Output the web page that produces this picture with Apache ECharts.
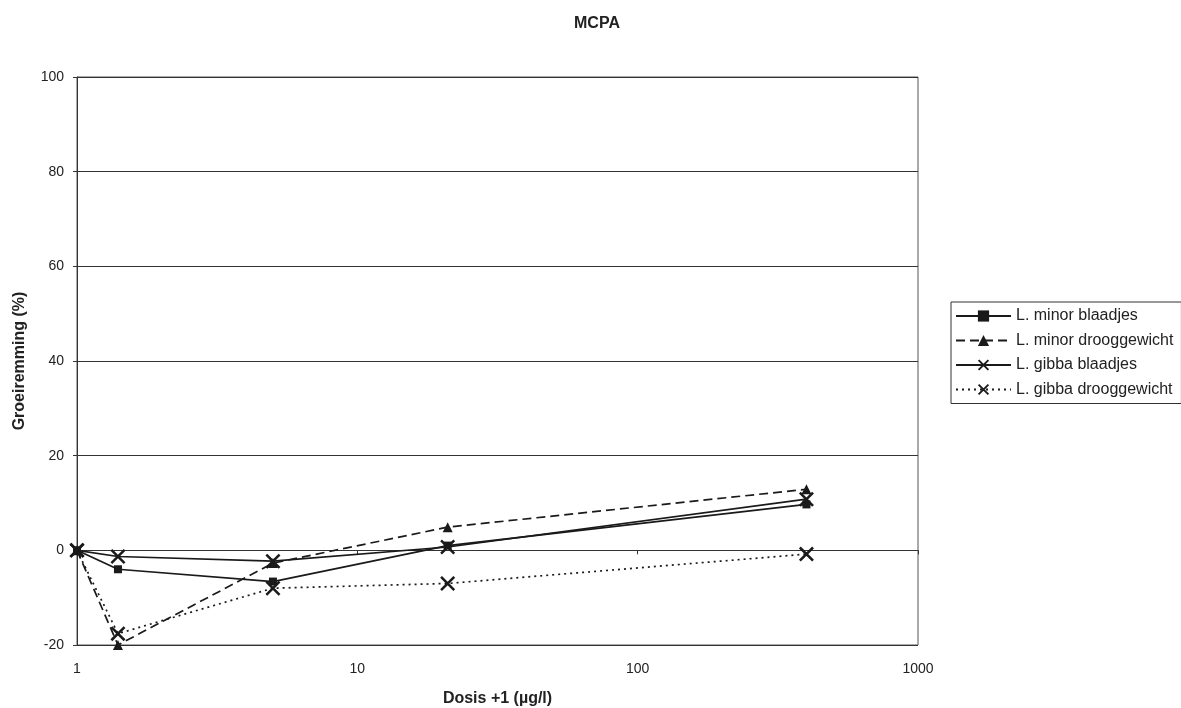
<!DOCTYPE html>
<html><head><meta charset="utf-8">
<script src="https://cdn.jsdelivr.net/npm/echarts@6/dist/echarts.min.js"></script>
<style>html,body{margin:0;padding:0;background:#fff;}#c{width:1181px;height:708px;}</style>
</head><body><div id="c"></div>
<script>
const doses = [1, 1.4, 5, 21, 400];
const minorBlaadjes = [0, -4, -6.6, 1, 9.7];
const minorDroog = [0, -20, -2.7, 4.9, 12.9];
const gibbaBlaadjes = [0, -1.3, -2.3, 0.7, 10.8];
const gibbaDroog = [0, -17.6, -8, -7, -0.8];
const seriesNames = ['L. minor blaadjes', 'L. minor drooggewicht', 'L. gibba blaadjes', 'L. gibba drooggewicht'];
const yTicks = [-20, 0, 20, 40, 60, 80, 100];

const crossPath = 'path://M0,1.2L1.2,0L10,8.8L8.8,10Z M8.8,0L10,1.2L1.2,10L0,8.8Z';
const ink = '#1a1a1a';
const font = 'Liberation Sans, Arial, sans-serif';
function pts(v){ return doses.map((d,i)=>[d, v[i]]); }
function mk(name, vals, symbol, size, type){
  return {
    name, type:'line', data: pts(vals), symbol, symbolSize:size,
    lineStyle:{color:ink, width:1.7, type:type},
    itemStyle:{color:ink}, z: 3
  };
}
const chart = echarts.init(document.getElementById('c'), null, {renderer:'canvas'});
chart.setOption({
  animation:false,
  textStyle:{fontFamily:font},
  title:{text:'MCPA', left:592, top:11, textAlign:'center',
    textStyle:{fontSize:16, fontWeight:'bold', color:'#222', fontFamily:font}},
  grid:{left:77, right:263, top:77, bottom:63, show:true, borderColor:'#555', borderWidth:1,
    containLabel:false, outerBoundsMode:'none'},
  legend:{
    orient:'vertical', left:951, top:302, itemWidth:55, itemHeight:14, itemGap:8.5,
    padding:[6,8,6,4], borderColor:'#333', borderWidth:1,
    textStyle:{fontSize:16, color:'#222', lineHeight:16},
    data: seriesNames
  },
  xAxis:{
    type:'log', logBase:10, min:1, max:1000,
    name:'Dosis +1 (µg/l)', nameLocation:'middle', nameGap:46,
    nameTextStyle:{fontSize:16, fontWeight:'bold', color:'#222'},
    axisLine:{lineStyle:{color:'#333'}},
    axisTick:{show:true, length:4, lineStyle:{color:'#333'}},
    axisLabel:{fontSize:14, color:'#222', margin:17, formatter:(v)=>String(v)},
    splitLine:{show:false}
  },
  yAxis:{
    type:'value', min:yTicks[0], max:yTicks[yTicks.length-1], interval:20,
    name:'Groeiremming (%)', nameLocation:'middle', nameGap:49,
    nameTextStyle:{fontSize:16, fontWeight:'bold', color:'#222'},
    axisLine:{show:true, lineStyle:{color:'#333'}},
    axisTick:{show:true, length:4, lineStyle:{color:'#333'}},
    axisLabel:{fontSize:14, color:'#222', margin:13},
    splitLine:{show:true, lineStyle:{color:'#333', width:1.2}}
  },
  series:[
    mk(seriesNames[0], minorBlaadjes, 'rect', 8, 'solid'),
    mk(seriesNames[1], minorDroog, 'triangle', 10, [9,5]),
    mk(seriesNames[2], gibbaBlaadjes, crossPath, 15, 'solid'),
    mk(seriesNames[3], gibbaDroog, crossPath, 15, [2,4])
  ]
});
</script></body></html>
